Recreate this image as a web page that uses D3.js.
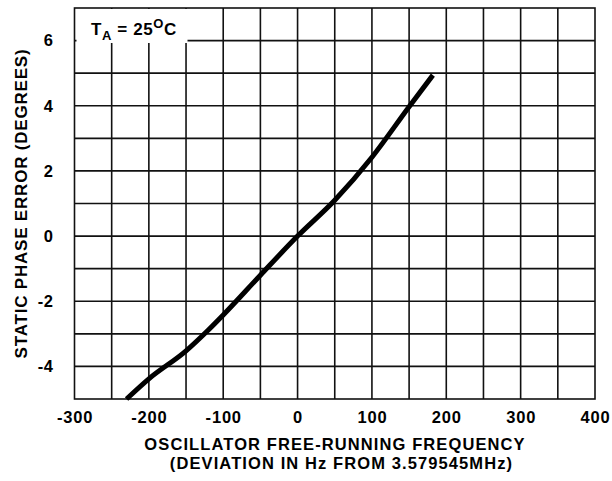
<!DOCTYPE html>
<html>
<head>
<meta charset="utf-8">
<script src="https://cdn.jsdelivr.net/npm/d3@7"></script>
<style>
  body { margin: 0; background: #fff; }
  svg text { font-family: "Liberation Sans", Arial, sans-serif; font-weight: bold; fill: #000; }
</style>
</head>
<body>
<svg id="chart" width="612" height="481"></svg>
<script>
// curve
var freqDev = [-230, -200, -150, -120, -100, -50, 0, 50, 100, 150, 182];
var phaseErr = [-5, -4.38, -3.52, -2.88, -2.42, -1.2, 0, 1.1, 2.42, 3.97, 4.94];

var xTicks = [-300, -200, -100, 0, 100, 200, 300, 400];
var yTicks = [-4, -2, 0, 2, 4, 6];
var xGrid = d3.range(-250, 400, 50);
var yGrid = d3.range(-4, 7, 1);

var svg = d3.select("#chart"),
  margin = { top: 8, right: 17, bottom: 82, left: 74.5 },
  width = 612 - margin.left - margin.right,
  height = 481 - margin.top - margin.bottom;

var x = d3.scaleLinear().domain([-300, 400]).range([0, width]);
var y = d3.scaleLinear().domain([-5, 7]).range([height, 0]);

var g = svg.append("g")
  .attr("transform", "translate(" + margin.left + "," + margin.top + ")");

// grid
g.selectAll(".vgrid")
  .data(xGrid)
  .enter().append("line")
  .attr("class", "vgrid")
  .attr("x1", function(d) { return x(d); })
  .attr("x2", function(d) { return x(d); })
  .attr("y1", 0)
  .attr("y2", height)
  .attr("stroke", "#111")
  .attr("stroke-width", 1.6);

g.selectAll(".hgrid")
  .data(yGrid)
  .enter().append("line")
  .attr("class", "hgrid")
  .attr("x1", 0)
  .attr("x2", width)
  .attr("y1", function(d) { return y(d); })
  .attr("y2", function(d) { return y(d); })
  .attr("stroke", "#111")
  .attr("stroke-width", 1.6);

g.append("rect")
  .attr("width", width)
  .attr("height", height)
  .attr("fill", "none")
  .attr("stroke", "#111")
  .attr("stroke-width", 1.6);

// legend box
g.append("rect")
  .attr("x", 2)
  .attr("y", 1)
  .attr("width", 111)
  .attr("height", 34)
  .attr("fill", "#fff");

var leg = g.append("text")
  .attr("x", 16.5)
  .attr("y", 27)
  .style("font-size", "17px")
  .style("letter-spacing", "0.6px");
leg.append("tspan").text("T");
leg.append("tspan").attr("dy", 4.5).style("font-size", "13px").text("A");
leg.append("tspan").attr("dy", -4.5).text(" = 25");
leg.append("tspan").attr("dy", -7).style("font-size", "13px").text("O");
leg.append("tspan").attr("dy", 7).text("C");

// curve
var line = d3.line()
  .curve(d3.curveMonotoneX)
  .x(function(d) { return x(d[0]); })
  .y(function(d) { return y(d[1]); });

g.append("path")
  .datum(d3.zip(freqDev, phaseErr))
  .attr("d", line)
  .attr("fill", "none")
  .attr("stroke", "#000")
  .attr("stroke-width", 5);

// axes (labels only)
var xAxis = g.append("g")
  .attr("transform", "translate(0," + height + ")")
  .call(d3.axisBottom(x).tickValues(xTicks).tickSize(0).tickPadding(12.5).tickFormat(function(d) { return String(d); }));
xAxis.select(".domain").remove();
xAxis.selectAll("text")
  .style("font-size", "16.5px")
  .style("letter-spacing", "0.8px")
  .attr("font-family", null);

var yAxis = g.append("g")
  .call(d3.axisLeft(y).tickValues(yTicks).tickSize(0).tickPadding(21).tickFormat(function(d) { return String(d); }));
yAxis.select(".domain").remove();
yAxis.selectAll("text")
  .style("font-size", "16.5px")
  .style("letter-spacing", "0.5px")
  .attr("font-family", null);

// titles
svg.append("text")
  .attr("x", 335)
  .attr("y", 450)
  .attr("text-anchor", "middle")
  .style("font-size", "16.5px")
  .style("letter-spacing", "1.1px")
  .text("OSCILLATOR FREE-RUNNING FREQUENCY");
svg.append("text")
  .attr("x", 341.5)
  .attr("y", 469)
  .attr("text-anchor", "middle")
  .style("font-size", "16.5px")
  .style("letter-spacing", "1.1px")
  .text("(DEVIATION IN Hz FROM 3.579545MHz)");

svg.append("text")
  .attr("transform", "translate(27,203.5) rotate(-90)")
  .attr("text-anchor", "middle")
  .style("font-size", "17px")
  .style("letter-spacing", "0.8px")
  .text("STATIC PHASE ERROR (DEGREES)");
</script>
</body>
</html>
